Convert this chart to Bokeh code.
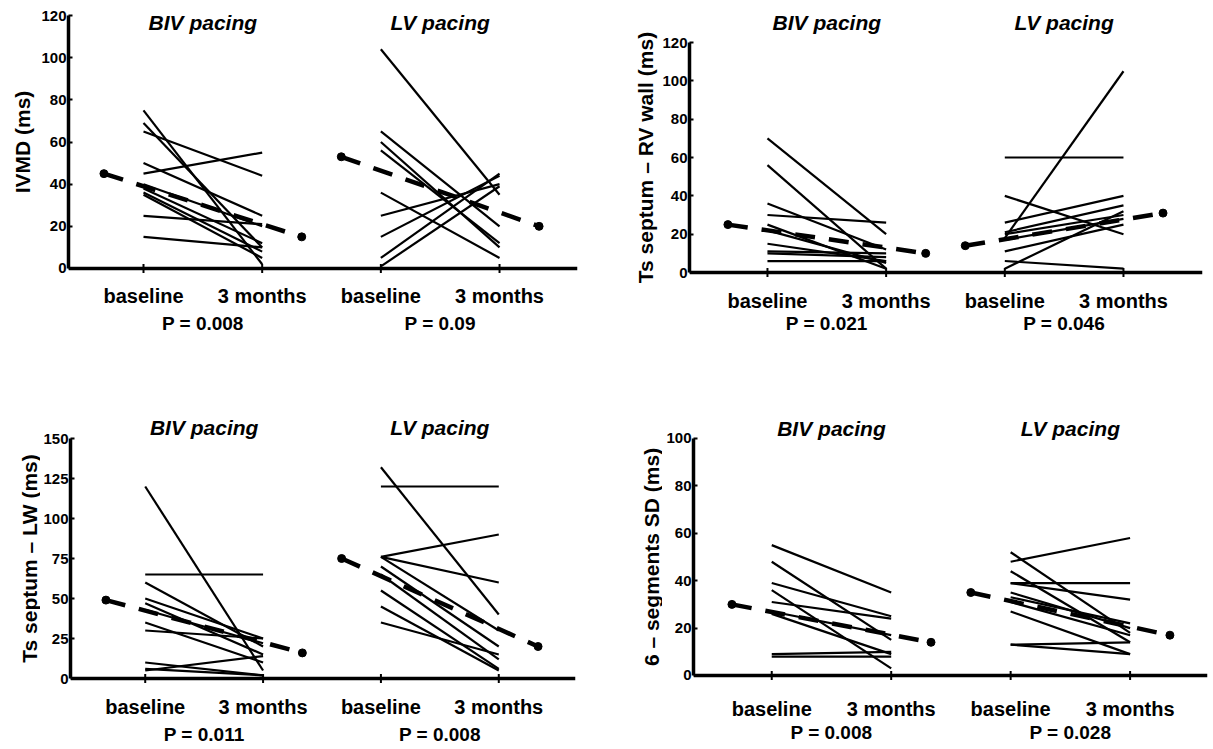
import math
from bokeh.plotting import figure
from bokeh.layouts import column, row
from bokeh.models import FixedTicker, Label, Range1d, ColumnDataSource, Span
from bokeh.core.properties import value
from bokeh.embed import file_html
from bokeh.resources import INLINE

# ---------------- data ----------------
group_titles = ["BIV pacing", "LV pacing"]
time_labels = ["baseline", "3 months"]
group_base_x = [1, 3]          # category position of "baseline" for each group

# IVMD
ivmd_biv_base = [75, 69, 65, 50, 45, 40, 38, 36, 35, 25, 15]
ivmd_biv_3m = [2, 10, 44, 25, 55, 20, 12, 8, 5, 21, 10]
ivmd_lv_base = [104, 65, 60, 56, 36, 25, 15, 5, 1]
ivmd_lv_3m = [35, 20, 10, 12, 5, 40, 44, 45, 39]
ivmd_mean_biv = [45, 15]
ivmd_mean_lv = [53, 20]
ivmd_p = ["P = 0.008", "P = 0.09"]

# Ts septum - RV wall
rv_biv_base = [70, 56, 36, 30, 25, 22, 15, 11, 10, 6]
rv_biv_3m = [20, 2, 12, 26, 2, 5, 6, 10, 8, 6]
rv_lv_base = [60, 18, 40, 26, 21, 20, 17, 11, 6, 2]
rv_lv_3m = [60, 105, 20, 40, 35, 30, 28, 25, 2, 32]
rv_mean_biv = [25, 10]
rv_mean_lv = [14, 31]
rv_p = ["P = 0.021", "P = 0.046"]

# Ts septum - LW
lw_biv_base = [120, 65, 60, 50, 47, 43, 35, 30, 10, 5, 6]
lw_biv_3m = [5, 65, 20, 25, 15, 22, 10, 25, 2, 14, 2]
lw_lv_base = [132, 120, 76, 76, 76, 70, 65, 55, 45, 35]
lw_lv_3m = [40, 120, 90, 60, 30, 20, 12, 6, 5, 15]
lw_mean_biv = [49, 16]
lw_mean_lv = [75, 20]
lw_p = ["P = 0.011", "P = 0.008"]

# 6-segments SD
sd_biv_base = [55, 48, 39, 36, 31, 27, 26, 9, 8]
sd_biv_3m = [35, 15, 25, 3, 24, 17, 9, 10, 8]
sd_lv_base = [48, 52, 44, 39, 39, 35, 33, 31, 27, 13, 13]
sd_lv_3m = [58, 18, 14, 39, 32, 20, 22, 17, 9, 14, 9]
sd_mean_biv = [30, 14]
sd_mean_lv = [35, 17]
sd_p = ["P = 0.008", "P = 0.028"]

FONT = "Liberation Sans"
INK = "black"


def blank(fig):
    fig.xgrid.visible = False
    fig.ygrid.visible = False
    fig.outline_line_color = None
    fig.background_fill_color = "white"
    fig.border_fill_color = "white"


def make_panel(ylabel, yticks, biv, lv, means, pvals, geo):
    yr = Range1d(geo["ybot"], geo["ytop"])
    p = figure(width=geo["w"], height=geo["h"], output_backend="svg",
               toolbar_location=None,
               x_range=Range1d(geo["x0"], geo["x1"]), y_range=yr,
               min_border_left=geo["bl"], min_border_right=geo["br"],
               min_border_top=geo["bt"], min_border_bottom=0)
    blank(p)
    p.xaxis.visible = False

    for gx, (base, m3), mean in zip(group_base_x, [biv, lv], means):
        src = ColumnDataSource(dict(x0=[gx] * len(base), y0=base,
                                    x1=[gx + 1] * len(m3), y1=m3))
        p.segment("x0", "y0", "x1", "y1", source=src, line_color=INK,
                  line_width=2.2)
        mx = [gx - 1 / 3, gx + 1 + 1 / 3]
        p.line(mx, mean, line_color=INK, line_width=4.5, line_dash="20 14")
        p.scatter(mx, mean, marker="circle", size=8, color=INK)

    # horizontal axis line at zero
    p.add_layout(Span(location=0, dimension="width", line_color=INK,
                      line_width=3.5))

    # category ticks and labels
    ticks, labs = [], []
    for gx in group_base_x:
        for k, lab in enumerate(time_labels):
            ticks.append(gx + k)
            labs.append(lab)
    zeros = [0] * len(ticks)
    p.scatter(ticks, zeros, marker="dash", angle=math.pi / 2, size=9,
              line_color=INK, line_width=2)
    p.text(ticks, zeros, text=labs, y_offset=geo["xo"], text_align="center",
           text_baseline="middle", text_font=value(FONT),
           text_font_size=value("20px"), text_font_style=value("bold"),
           text_color=INK)

    # p-values
    mids = [gx + 0.5 for gx in group_base_x]
    p.text(mids, [0] * len(mids), text=pvals, y_offset=geo["po"],
           text_align="center", text_baseline="middle", text_font=value(FONT),
           text_font_size=value("19px"), text_font_style=value("bold"),
           text_color=INK)

    # y axis (numbers only; its title is drawn in the strip on the left)
    ya = p.yaxis[0]
    ya.ticker = FixedTicker(ticks=yticks)
    ya.bounds = (0, yticks[-1])
    ya.major_label_text_font = FONT
    ya.major_label_text_font_size = "15px"
    ya.major_label_text_font_style = "bold"
    ya.major_label_text_color = INK
    ya.major_label_standoff = 2
    ya.major_tick_in = 4
    ya.major_tick_out = 0
    ya.major_tick_line_width = 2
    ya.major_tick_line_color = INK
    ya.minor_tick_line_color = None
    ya.axis_line_width = 3.5
    ya.axis_line_color = INK

    # group titles
    for m, t in zip(mids, group_titles):
        p.add_layout(Label(x=m, y=geo["ty"], text=t, text_align="center",
                           text_baseline="middle", text_font=FONT,
                           text_font_size="21px",
                           text_font_style="bold italic", text_color=INK))

    # strip holding the vertical axis title, sharing the y range
    s = figure(width=geo["lw"], height=geo["h"], output_backend="svg",
               toolbar_location=None,
               x_range=Range1d(0, geo["lw"]), y_range=yr,
               min_border_left=0, min_border_right=0,
               min_border_top=geo["bt"], min_border_bottom=0)
    blank(s)
    s.xaxis.visible = False
    s.yaxis.visible = False
    s.text([geo["lx"]], [(yticks[0] + yticks[-1]) / 2], text=[ylabel],
           angle=math.pi / 2, text_align="center", text_baseline="middle",
           text_font=value(FONT), text_font_size=value("21px"),
           text_font_style=value("bold"), text_color=INK)
    return row(s, p)


geo1 = dict(lw=36, lx=22, w=570, h=374, bl=32, br=29, bt=10,
            x0=0.368, x1=4.657, ybot=-50.3, ytop=122.4, ty=116.7, xo=28, po=55)
geo2 = dict(lw=52, lx=39, w=554, h=374, bl=31, br=10, bt=10,
            x0=0.343, x1=4.666, ybot=-53.2, ytop=136.7, ty=130.4, xo=28, po=51)
geo3 = dict(lw=40, lx=29, w=566, h=374, bl=28, br=31, bt=40,
            x0=0.366, x1=4.651, ybot=-43.75, ytop=165.0, ty=157.0, xo=28, po=56)
geo4 = dict(lw=56, lx=45, w=550, h=374, bl=31, br=5, bt=40,
            x0=0.345, x1=4.648, ybot=-30.8, ytop=110.1, ty=104.2, xo=34, po=57)

p1 = make_panel("IVMD (ms)", list(range(0, 121, 20)),
                (ivmd_biv_base, ivmd_biv_3m), (ivmd_lv_base, ivmd_lv_3m),
                [ivmd_mean_biv, ivmd_mean_lv], ivmd_p, geo1)
p2 = make_panel("Ts septum \u2013 RV wall (ms)", list(range(0, 121, 20)),
                (rv_biv_base, rv_biv_3m), (rv_lv_base, rv_lv_3m),
                [rv_mean_biv, rv_mean_lv], rv_p, geo2)
p3 = make_panel("Ts septum \u2013 LW (ms)", list(range(0, 151, 25)),
                (lw_biv_base, lw_biv_3m), (lw_lv_base, lw_lv_3m),
                [lw_mean_biv, lw_mean_lv], lw_p, geo3)
p4 = make_panel("6 \u2013 segments SD (ms)", list(range(0, 101, 20)),
                (sd_biv_base, sd_biv_3m), (sd_lv_base, sd_lv_3m),
                [sd_mean_biv, sd_mean_lv], sd_p, geo4)

layout = column(row(p1, p2), row(p3, p4))
open("out.html", "w").write(file_html(layout, INLINE))
